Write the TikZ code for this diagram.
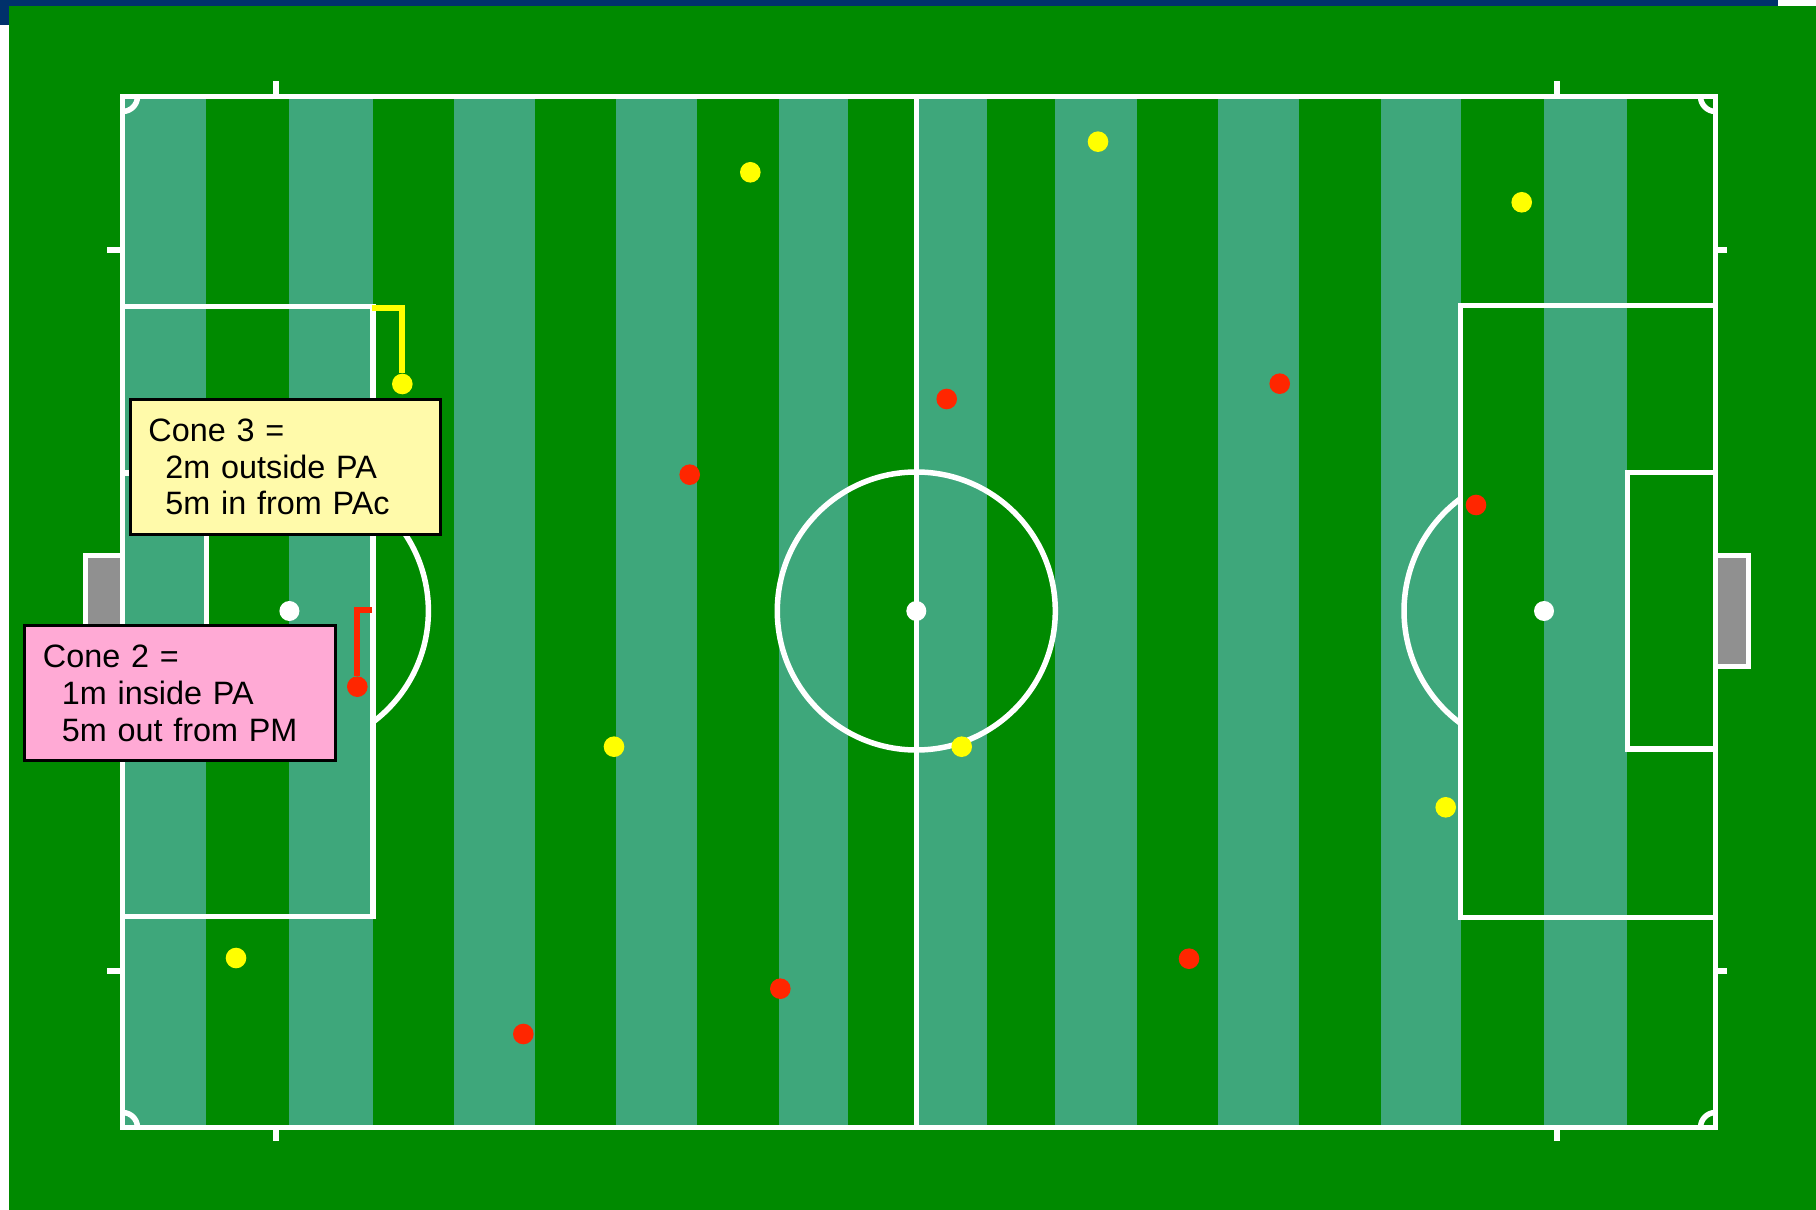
\documentclass[tikz,border=0pt]{standalone}
\usepackage{fontspec}
\setmainfont{Liberation Sans}
\usepackage{tikz}
\usetikzlibrary{positioning}
\definecolor{cPitch}{HTML}{008A00}
\definecolor{cStripe}{HTML}{3EA77B}
\definecolor{cNavy}{HTML}{00316B}
\definecolor{cRed}{HTML}{FF2600}
\definecolor{cYellow}{HTML}{FFFF00}
\definecolor{cGoal}{HTML}{909090}
\definecolor{cNoteY}{HTML}{FFFAAA}
\definecolor{cNoteP}{HTML}{FFAAD5}

\begin{document}
\begin{tikzpicture}[x=0.01cm, y=-0.01cm,
        font=\fontsize{9.2pt}{10.5pt}\selectfont,
        pitchline/.style={white, line width=0.055cm},
        spot/.style={circle, fill=white, minimum size=0.2cm, inner sep=0pt},
        yCone/.style={circle, fill=cYellow, minimum size=0.206cm, inner sep=0pt},
        rCone/.style={circle, fill=cRed, minimum size=0.206cm, inner sep=0pt},
        yLink/.style={cYellow, line width=0.06cm},
        rLink/.style={cRed, line width=0.06cm},
        notebox/.style={draw=black, line width=0.03cm, text width=2.74cm,
            inner xsep=0.18cm, inner ysep=0pt, minimum height=1.35cm, align=left}]
        \useasboundingbox (0,0) rectangle (1816,1210);
        \fill[white] (0,0) rectangle (1816,1210);
        \fill[cNavy] (0,0) rectangle (1778,6);
        \fill[cNavy] (0,0) rectangle (9,25);
        \fill[cPitch] (9,6) rectangle (1816,1210);

        \foreach \a/\b in {125/206, 289/373, 454/535, 616/697, 779/848,
                           916/987, 1055/1137, 1218/1299, 1381/1461, 1544/1627}
            \fill[cStripe] (\a,96.5) rectangle (\b,1127.5);

        \draw[white, line width=0.05cm, fill=cGoal] (85.2,555.5) rectangle (122.5,666.5);
        \draw[white, line width=0.05cm, fill=cGoal] (1715.5,555.5) rectangle (1748.5,666.5);

        \draw[pitchline] (122.5,96.5) rectangle (1715.5,1127.5);
        \draw[pitchline] (916.3,96.5) -- (916.3,1127.5);
        \draw[pitchline] (916.3,611) circle[radius=139];
        \draw[pitchline] (122.5,306.5) rectangle (373,916.5);
        \draw[pitchline] (1460.5,305.5) rectangle (1715.5,917.5);
        \draw[pitchline] (122.5,472.8) rectangle (206.5,750.5);
        \draw[pitchline] (1627.5,472.5) rectangle (1715.5,749);
        \draw[pitchline] (289.4,611) ++(-53:139) arc[start angle=-53, end angle=53, radius=139];
        \draw[pitchline] (1544,611) ++(127:140) arc[start angle=127, end angle=233, radius=140];

        \draw[pitchline] (122.5,96.5) ++(0:15) arc[start angle=0, end angle=90, radius=15];
        \draw[pitchline] (1715.5,96.5) ++(90:15) arc[start angle=90, end angle=180, radius=15];
        \draw[pitchline] (1715.5,1127.5) ++(180:15) arc[start angle=180, end angle=270, radius=15];
        \draw[pitchline] (122.5,1127.5) ++(270:15) arc[start angle=270, end angle=360, radius=15];

        \draw[pitchline] (276,96.5) -- (276,81);
        \draw[pitchline] (1557,96.5) -- (1557,81);
        \draw[pitchline] (276,1127.5) -- (276,1141);
        \draw[pitchline] (1557,1127.5) -- (1557,1141);
        \draw[pitchline] (122.5,250) -- (107,250);
        \draw[pitchline] (122.5,971) -- (107,971);
        \draw[pitchline] (1715.5,250) -- (1727,250);
        \draw[pitchline] (1715.5,971) -- (1727,971);

        \node[spot] (lSpot) at (289.4,611) {};
        \node[spot] (cSpot) at (916.3,611) {};
        \node[spot] (rSpot) at (1544,611) {};

        \node[yCone] (y1) at (750.3,172.3) {};
        \node[yCone] (y2) at (1098,141.7) {};
        \node[yCone] (y3) at (1521.7,202.3) {};
        \node[yCone] (c3) at (402.3,384) {};
        \node[yCone] (y5) at (614,746.7) {};
        \node[yCone] (y6) at (961.7,746.7) {};
        \node[yCone] (y7) at (1445.7,807.3) {};
        \node[yCone] (y8) at (236,958) {};

        \node[rCone] (r1) at (946.7,399) {};
        \node[rCone] (r2) at (1279.7,383.7) {};
        \node[rCone] (r3) at (689.7,474.7) {};
        \node[rCone] (r4) at (1476,505) {};
        \node[rCone] (c2) at (357.3,686.7) {};
        \node[rCone] (r6) at (1189,958.7) {};
        \node[rCone] (r7) at (780.3,988.7) {};
        \node[rCone] (r8) at (523.3,1034) {};

        \coordinate (paC3) at (372,308);
        \coordinate (paC2) at (372,610.5);
        \draw[yLink] (paC3) -| (c3);
        \draw[rLink] (c2) |- (paC2);

        \node[notebox, fill=cNoteY] (n3) at (285.5,466.9)
            {Cone 3 =\\\hspace*{0.17cm}2m outside PA\\\hspace*{0.17cm}5m in from PAc};
        \node[notebox, fill=cNoteP] (n2) at (180,693)
            {Cone 2 =\\\hspace*{0.19cm}1m inside PA\\\hspace*{0.19cm}5m out from PM};
    \end{tikzpicture}
\end{document}
